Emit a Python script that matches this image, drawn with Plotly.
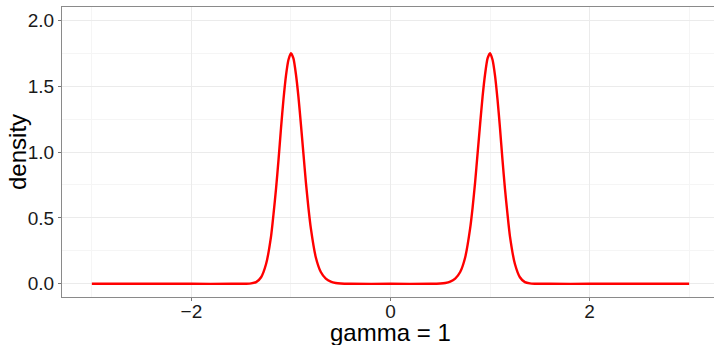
import plotly.graph_objects as go

# Density curve (x, density)
x_vals = [
    -3.0, -2.5, -2.0, -1.6, -1.5, -1.45, -1.4, -1.35, -1.3, -1.25, -1.2, -1.175, -1.15, -1.125,
    -1.1, -1.075, -1.05, -1.025, -1.0, -0.975, -0.95, -0.925, -0.9, -0.875, -0.85,
    -0.825, -0.8, -0.75, -0.7, -0.65, -0.6, -0.55, -0.5, -0.4,
    0.0,
    0.4, 0.5, 0.55, 0.6, 0.65, 0.7, 0.75, 0.8, 0.825, 0.85, 0.875, 0.9, 0.925,
    0.95, 0.975, 1.0, 1.025, 1.05, 1.075, 1.1, 1.125, 1.15, 1.175, 1.2, 1.25,
    1.3, 1.35, 1.4, 1.45, 1.5, 1.6, 2.0, 2.5, 3.0,
]
density_vals = [
    0.0, 0.0, 0.0, 0.0, 0.0005, 0.001, 0.003, 0.013, 0.05, 0.15, 0.36, 0.53, 0.72, 0.94,
    1.18, 1.40, 1.58, 1.70, 1.75, 1.71, 1.59, 1.42, 1.21, 0.99, 0.77,
    0.58, 0.42, 0.20, 0.09, 0.04, 0.016, 0.006, 0.002, 0.0,
    0.0,
    0.0, 0.002, 0.006, 0.016, 0.04, 0.09, 0.20, 0.42, 0.58, 0.77, 0.99, 1.21, 1.42,
    1.59, 1.71, 1.75, 1.70, 1.58, 1.40, 1.18, 0.94, 0.72, 0.53, 0.36, 0.15,
    0.05, 0.013, 0.003, 0.001, 0.0005, 0.0, 0.0, 0.0, 0.0,
]

x_ticks = [-2, 0, 2]
y_ticks = [0.0, 0.5, 1.0, 1.5, 2.0]
x_title = "gamma = 1"
y_title = "density"

fig = go.Figure(
    go.Scatter(
        x=x_vals, y=density_vals, mode="lines",
        line=dict(color="#FF0000", width=2.4, shape="spline", smoothing=0.6),
        showlegend=False, hoverinfo="skip",
    )
)

font_family = "Liberation Sans, Arial, sans-serif"

axis_common = dict(
    showline=True, linecolor="#8a8a8a", linewidth=1,
    gridcolor="#EBEBEB", gridwidth=1,
    ticks="outside", ticklen=3, tickcolor="#777777", tickwidth=1,
    tickfont=dict(family=font_family, size=19, color="#1a1a1a"),
    zeroline=False, automargin=False,
)

# The reference panel runs past the right edge of the 714px image,
# so the figure is slightly wider and the page clips it.
fig.update_layout(
    width=719, height=345,
    margin=dict(l=62, r=0, t=6.5, b=48),
    paper_bgcolor="white", plot_bgcolor="white",
    font=dict(family=font_family, color="#000000"),
    xaxis=dict(
        range=[-3.3, 3.3], tickvals=x_ticks, ticklabelstandoff=-6, mirror=True, **axis_common,
        minor=dict(tickvals=[-3, -1, 1, 3], showgrid=True, gridcolor="#F5F5F5", ticks=""),
    ),
    yaxis=dict(
        range=[-0.1, 2.1], tickvals=y_ticks, tickformat=".1f", mirror=False, **axis_common,
        minor=dict(tickvals=[0.25, 0.75, 1.25, 1.75], showgrid=True, gridcolor="#F5F5F5", ticks=""),
    ),
    annotations=[
        dict(text=x_title, xref="paper", yref="paper", x=0.5, y=-0.123,
             xanchor="center", yanchor="middle", showarrow=False,
             font=dict(family=font_family, size=24, color="#000000")),
        dict(text=y_title, xref="paper", yref="paper", x=-0.0685, y=0.5,
             xanchor="center", yanchor="middle", showarrow=False, textangle=-90,
             font=dict(family=font_family, size=24, color="#000000")),
    ],
)

fig.write_html(
    "out.html",
    config={"displayModeBar": False},
    post_script="document.body.style.margin='0px';document.body.style.overflow='hidden';",
)
